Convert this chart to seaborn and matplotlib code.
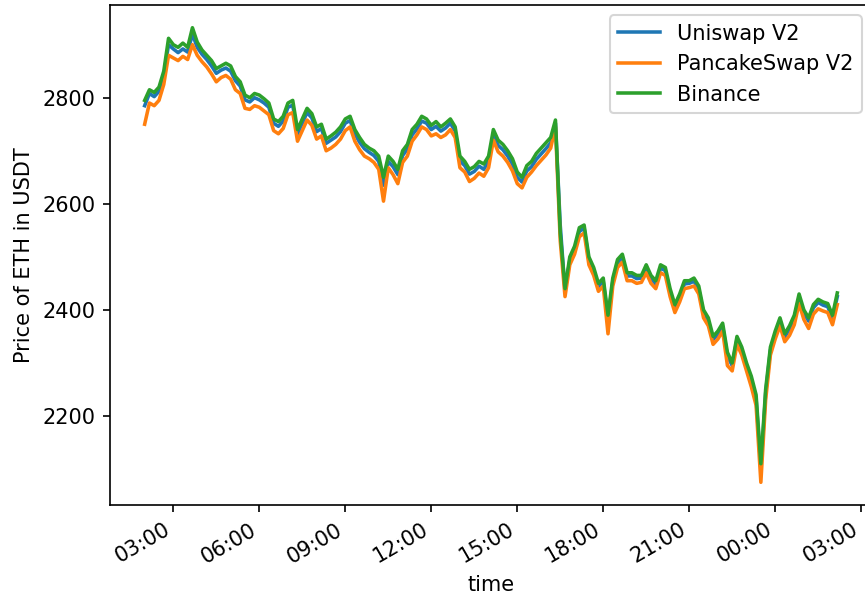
import pandas as pd
import matplotlib
matplotlib.use('Agg')
import matplotlib.pyplot as plt
import matplotlib.dates as mdates
import seaborn as sns

# ETH price, sampled every 10 minutes starting 02:00
binance = [
    2795, 2815, 2810, 2820, 2850, 2912, 2900, 2895, 2903, 2895,
    2932, 2905, 2890, 2880, 2870, 2855, 2860, 2865, 2860, 2840,
    2830, 2805, 2800, 2808, 2805, 2798, 2790, 2760, 2755, 2765,
    2790, 2795, 2740, 2760, 2780, 2770, 2745, 2750, 2722, 2728,
    2735, 2745, 2760, 2765, 2740, 2725, 2712, 2705, 2700, 2690,
    2650, 2690, 2680, 2665, 2700, 2712, 2740, 2750, 2765, 2760,
    2748, 2755, 2745, 2752, 2760, 2745, 2690, 2680, 2665, 2670,
    2680, 2675, 2690, 2740, 2720, 2712, 2700, 2685, 2660, 2650,
    2672, 2680, 2695, 2705, 2715, 2725, 2758, 2545, 2440, 2500,
    2520, 2555, 2560, 2500, 2480, 2450, 2460, 2390, 2460, 2495,
    2505, 2470, 2470, 2465, 2465, 2485, 2465, 2455, 2485, 2480,
    2440, 2410, 2430, 2455, 2455, 2460, 2445, 2400, 2385, 2350,
    2360, 2375, 2320, 2300, 2350, 2330, 2300, 2275, 2240, 2110,
    2250, 2330, 2360, 2385, 2355, 2370, 2390, 2430, 2400, 2385,
    2410, 2420, 2415, 2412, 2390, 2432,
]

pancakeswap_v2 = [
    2750, 2790, 2785, 2795, 2825, 2880, 2875, 2870, 2878, 2872,
    2900, 2880, 2868, 2858, 2845, 2830, 2838, 2842, 2835, 2815,
    2808, 2780, 2778, 2785, 2782, 2775, 2768, 2738, 2732, 2742,
    2768, 2772, 2718, 2738, 2758, 2748, 2722, 2728, 2700, 2705,
    2712, 2722, 2738, 2745, 2718, 2702, 2690, 2685, 2678, 2665,
    2605, 2668, 2655, 2638, 2678, 2690, 2718, 2730, 2745, 2740,
    2728, 2732, 2725, 2730, 2740, 2725, 2668, 2660, 2642, 2648,
    2658, 2652, 2668, 2720, 2698, 2690, 2678, 2662, 2638, 2630,
    2650, 2660, 2672, 2682, 2692, 2705, 2745, 2530, 2425, 2485,
    2505, 2538, 2545, 2485, 2465, 2435, 2445, 2355, 2445, 2480,
    2490, 2455, 2455, 2450, 2452, 2470, 2450, 2440, 2470, 2465,
    2425, 2395, 2415, 2440, 2442, 2445, 2430, 2385, 2370, 2335,
    2345, 2360, 2295, 2285, 2335, 2315, 2285, 2255, 2220, 2075,
    2230, 2315, 2345, 2370, 2340, 2352, 2372, 2412, 2382, 2365,
    2392, 2402, 2398, 2395, 2372, 2410,
]

uniswap_v2 = [
    2785, 2808, 2802, 2812, 2842, 2900, 2892, 2885, 2892, 2886,
    2920, 2895, 2882, 2872, 2860, 2846, 2852, 2856, 2850, 2832,
    2822, 2796, 2792, 2800, 2796, 2790, 2782, 2752, 2746, 2756,
    2782, 2786, 2732, 2752, 2772, 2762, 2736, 2742, 2714, 2720,
    2726, 2736, 2752, 2757, 2732, 2716, 2704, 2697, 2691, 2680,
    2635, 2680, 2670, 2655, 2691, 2703, 2730, 2741, 2756, 2752,
    2740, 2746, 2737, 2743, 2752, 2737, 2681, 2672, 2656, 2661,
    2671, 2665, 2681, 2731, 2710, 2702, 2690, 2675, 2650, 2641,
    2662, 2670, 2684, 2694, 2704, 2715, 2752, 2560, 2435, 2494,
    2514, 2548, 2554, 2494, 2474, 2444, 2454, 2382, 2454, 2489,
    2499, 2464, 2464, 2459, 2460, 2479, 2459, 2449, 2479, 2474,
    2434, 2404, 2424, 2449, 2450, 2454, 2439, 2394, 2379, 2344,
    2354, 2369, 2313, 2295, 2345, 2324, 2294, 2268, 2233, 2100,
    2243, 2324, 2354, 2379, 2349, 2364, 2384, 2424, 2394, 2379,
    2404, 2414, 2409, 2406, 2384, 2425,
]

times = pd.date_range('2022-05-05 02:00', periods=len(binance), freq='10min')

df = pd.DataFrame({
    'time': times,
    'Uniswap V2': uniswap_v2,
    'PancakeSwap V2': pancakeswap_v2,
    'Binance': binance,
}).melt(id_vars='time', var_name='exchange', value_name='price')

fig = plt.figure(figsize=(865 / 150, 600 / 150), dpi=150)
ax = fig.add_axes([0.1272, 0.1583, 0.8808, 0.8334])

sns.lineplot(data=df, x='time', y='price', hue='exchange', ax=ax,
             palette=['#1f77b4', '#ff7f0e', '#2ca02c'], linewidth=1.7)
sns.move_legend(ax, 'upper right', title=None)

ax.xaxis.set_major_locator(mdates.HourLocator(byhour=range(0, 24, 3)))
ax.xaxis.set_major_formatter(mdates.DateFormatter('%H:%M'))
plt.setp(ax.get_xticklabels(), rotation=30, ha='right')

ax.set_xlabel('time')
ax.set_ylabel('Price of ETH in USDT')

fig.savefig('out.png', dpi=150)
